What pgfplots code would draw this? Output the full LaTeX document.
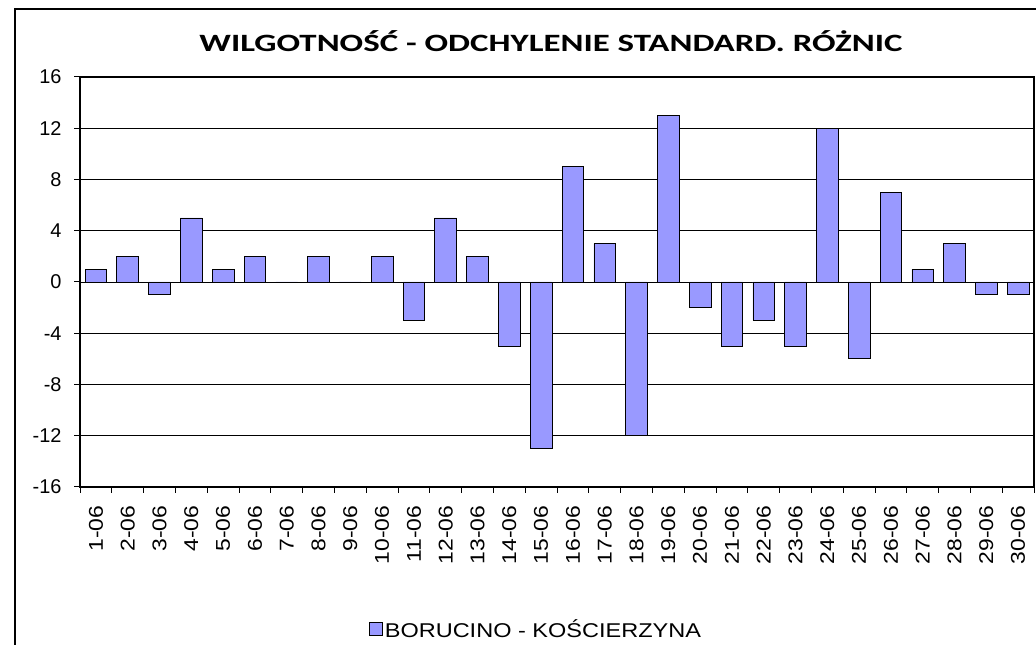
\documentclass[border=0pt]{standalone}
\usepackage{pgfplots}
\pgfplotsset{compat=1.18}
\usepackage{graphicx}
\usepackage{fontspec}
\setmainfont{Liberation Sans}
\newfontfamily\titlefont{Carlito}
\definecolor{barblue}{HTML}{9999FF}
\begin{document}
\begin{tikzpicture}[x=1bp,y=1bp]
\useasboundingbox (0,0) rectangle (1036,645);
\draw[line width=1.2bp] (15,0) -- (15,636) -- (1040,636);
\node[font=\titlefont\bfseries\fontsize{25}{28}\selectfont] at (551,604) {\scalebox{1.4}[1]{WILGOTNOŚĆ - ODCHYLENIE STANDARD. RÓŻNIC}};
\begin{axis}[
  at={(80bp,158bp)}, anchor=south west,
  scale only axis, width=954bp, height=410bp,
  xmin=0.5, xmax=30.5, ymin=-16, ymax=16,
  ytick={-16,-12,-8,-4,0,4,8,12,16},
  yticklabels={-16,-12,-8,-4,0,4,8,12,16},
  xtick={1,...,30},
  xticklabel={\pgfmathtruncatemacro\d{\tick}\scalebox{1.15}[1]{\d-06}},
  minor xtick={0.5,1.5,...,30.5},
  tick pos=left,
  major x tick style={draw=none},
  minor x tick style={black, line width=1bp},
  y tick style={black, line width=1bp},
  tick align=outside, major tick length=6bp, minor tick length=6bp,
  ymajorgrids, grid style={black, line width=0.8bp},
  axis line style={black, line width=1.3bp},
  yticklabel style={font=\fontsize{20}{21}\selectfont},
  xticklabel style={font=\fontsize{20}{21}\selectfont, rotate=90, anchor=east},
  xticklabel shift=9bp,
  yticklabel shift=9bp,
  ybar, bar width=0.68,
  legend style={at={(0.478,-0.346)}, anchor=center, draw=none, font=\fontsize{20}{21}\selectfont, inner sep=0pt},
  legend image code/.code={\draw[fill=barblue,draw=black,line width=0.8bp] (0bp,-6.5bp) rectangle (13bp,6.5bp);},
]
\addplot[fill=barblue, draw=black, line width=0.8bp] coordinates {
(1,1) (2,2) (3,-1) (4,5) (5,1) (6,2) (7,0) (8,2) (9,0) (10,2)
(11,-3) (12,5) (13,2) (14,-5) (15,-13) (16,9) (17,3) (18,-12) (19,13) (20,-2)
(21,-5) (22,-3) (23,-5) (24,12) (25,-6) (26,7) (27,1) (28,3) (29,-1) (30,-1)
};
\addlegendentry{\scalebox{1.18}[1]{BORUCINO - KOŚCIERZYNA}}
\end{axis}
\end{tikzpicture}
\end{document}
